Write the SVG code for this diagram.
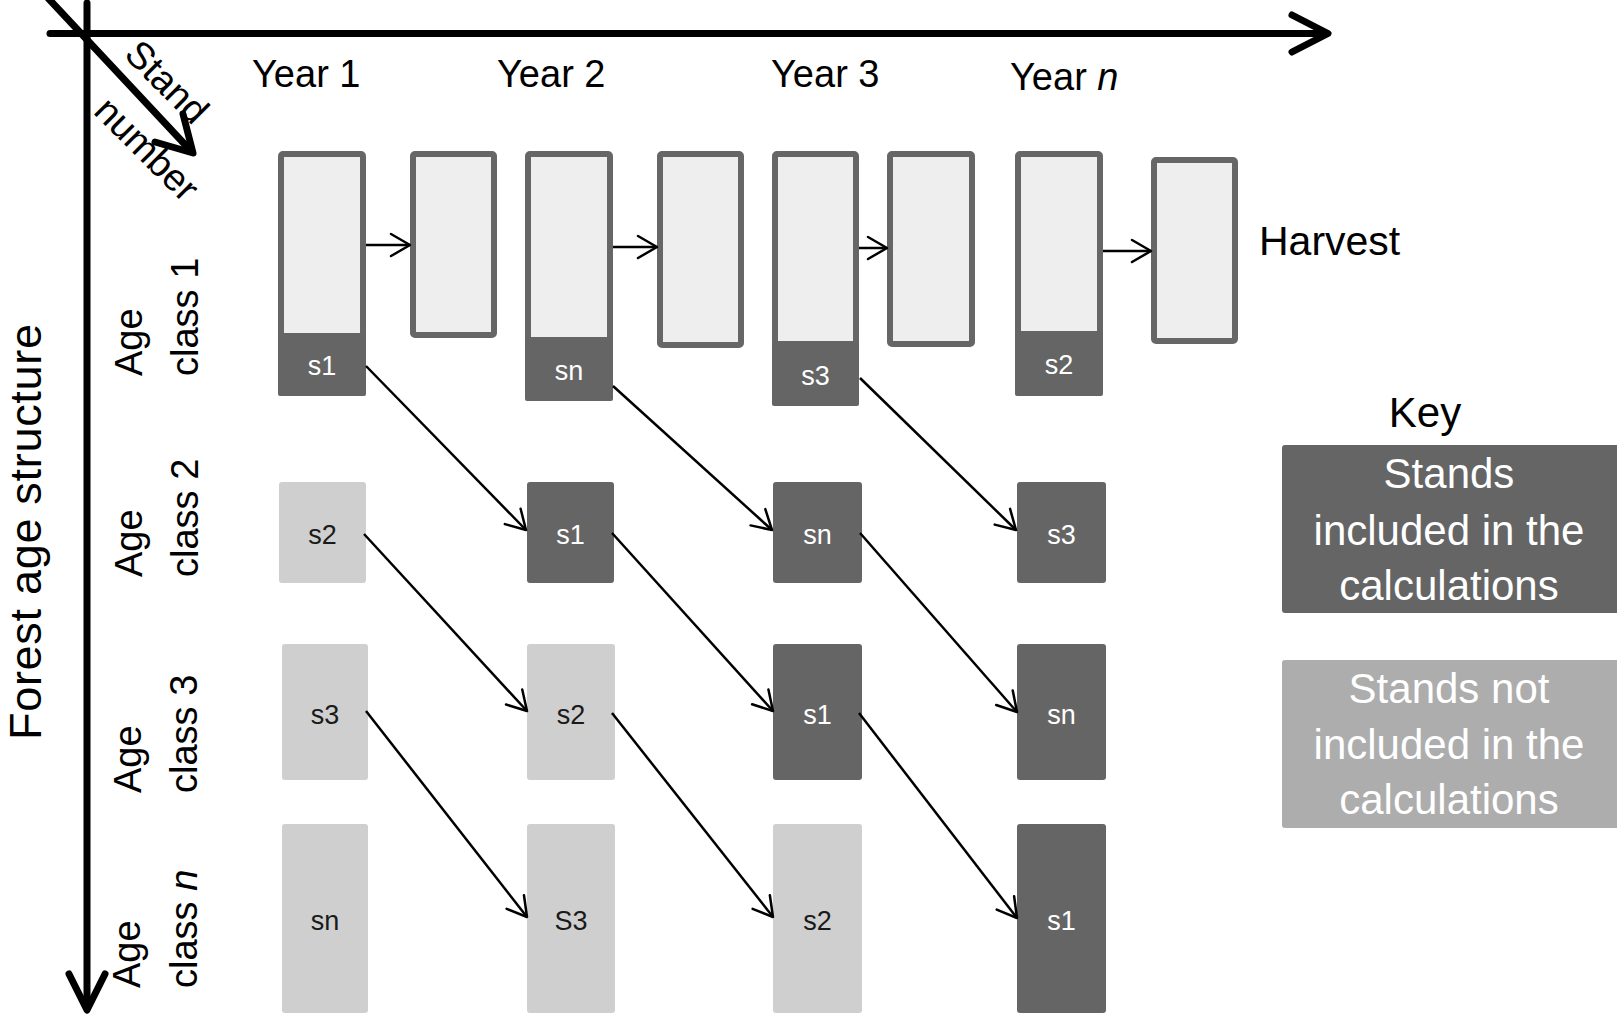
<svg xmlns="http://www.w3.org/2000/svg" width="1617" height="1015" viewBox="0 0 1617 1015">
<defs>
<style>
.t{font-family:"Liberation Sans",Arial,sans-serif;fill:#000}
.lbl{font-size:38px}
.bx{font-size:27px;text-anchor:middle}
.w{fill:#fff}
.k{fill:#1a1a1a}
.frame{fill:#eeeeee;stroke:#666666;stroke-width:6}
.dark{fill:#656565}
.light{fill:#cfcfcf}
.con{stroke:#000;stroke-width:2.5;fill:none;marker-end:url(#ah)}
.axis{stroke:#000;stroke-width:7;fill:none;stroke-linecap:round;stroke-linejoin:round}
.key{font-size:42px;text-anchor:middle;fill:#fff}
</style>
<marker id="ah" markerUnits="userSpaceOnUse" markerWidth="30" markerHeight="30" viewBox="-25 -15 30 30" refX="0" refY="0" orient="auto">
<path d="M-19,-11 L0,0 L-19,11" fill="none" stroke="#000" stroke-width="2.5" stroke-linecap="round" stroke-linejoin="round"/>
</marker>
</defs>
<rect width="1617" height="1015" fill="#fff"/>

<g id="axes">
<path class="axis" d="M50,33.5 L1326,33.5"/>
<path class="axis" d="M1292,15 L1328,33.5 L1292,52"/>
<path class="axis" d="M87,3 L87,1008"/>
<path class="axis" d="M69,974 L87,1010 L105,974"/>
<path class="axis" d="M48,-2 L191,151"/>
<path class="axis" d="M183,114 L193,153 L155,142"/>
</g>

<g id="axis-labels">
<text class="t lbl" text-anchor="middle" transform="translate(167,82) rotate(45)" y="13">Stand</text>
<text class="t lbl" text-anchor="middle" transform="translate(147,149) rotate(45)" y="13">number</text>
<text class="t" font-size="45" textLength="416" lengthAdjust="spacing" transform="translate(41,740) rotate(-90)">Forest age structure</text>
</g>

<g id="year-labels">
<text class="t lbl" x="252" y="87">Year 1</text>
<text class="t lbl" x="497" y="87">Year 2</text>
<text class="t lbl" x="771" y="87">Year 3</text>
<text class="t lbl" x="1010" y="90">Year <tspan font-style="italic">n</tspan></text>
</g>

<g id="age-labels">
<g id="age1"><text class="t lbl" transform="translate(142,376) rotate(-90)">Age</text><text class="t lbl" transform="translate(198,376) rotate(-90)">class 1</text></g>
<g id="age2"><text class="t lbl" transform="translate(142,577) rotate(-90)">Age</text><text class="t lbl" transform="translate(198,577) rotate(-90)">class 2</text></g>
<g id="age3"><text class="t lbl" transform="translate(141,793) rotate(-90)">Age</text><text class="t lbl" transform="translate(197,793) rotate(-90)">class 3</text></g>
<g id="agen"><text class="t lbl" transform="translate(140,988) rotate(-90)">Age</text><text class="t lbl" transform="translate(197,988) rotate(-90)">class <tspan font-style="italic">n</tspan></text></g>
</g>

<g id="row1">
<g id="y1c1"><rect class="frame" x="281" y="154" width="82" height="182" rx="2"/><rect class="dark" x="278" y="333" width="88" height="63" rx="2"/><text class="t bx w" x="322" y="375">s1</text></g>
<g id="y1h"><rect class="frame" x="413" y="154" width="81" height="181" rx="2"/></g>
<g id="y2c1"><rect class="frame" x="528" y="154" width="82" height="186" rx="2"/><rect class="dark" x="525" y="337" width="88" height="64" rx="2"/><text class="t bx w" x="569" y="380">sn</text></g>
<g id="y2h"><rect class="frame" x="660" y="154" width="81" height="191" rx="2"/></g>
<g id="y3c1"><rect class="frame" x="775" y="154" width="81" height="190" rx="2"/><rect class="dark" x="772" y="342" width="87" height="64" rx="2"/><text class="t bx w" x="815.5" y="385">s3</text></g>
<g id="y3h"><rect class="frame" x="890" y="154" width="82" height="190" rx="2"/></g>
<g id="ync1"><rect class="frame" x="1018" y="154" width="82" height="180" rx="2"/><rect class="dark" x="1015" y="331" width="88" height="65" rx="2"/><text class="t bx w" x="1059" y="374">s2</text></g>
<g id="ynh"><rect class="frame" x="1154" y="160" width="81" height="181" rx="2"/></g>
</g>

<g id="row2">
<g id="y1c2"><rect class="light" x="279" y="482" width="87" height="101" rx="3"/><text class="t bx k" x="322.5" y="544">s2</text></g>
<g id="y2c2"><rect class="dark" x="527" y="482" width="87" height="101" rx="3"/><text class="t bx w" x="570.5" y="544">s1</text></g>
<g id="y3c2"><rect class="dark" x="773" y="482" width="89" height="101" rx="3"/><text class="t bx w" x="817.5" y="544">sn</text></g>
<g id="ync2"><rect class="dark" x="1017" y="482" width="89" height="101" rx="3"/><text class="t bx w" x="1061.5" y="544">s3</text></g>
</g>

<g id="row3">
<g id="y1c3"><rect class="light" x="282" y="644" width="86" height="136" rx="3"/><text class="t bx k" x="325" y="724">s3</text></g>
<g id="y2c3"><rect class="light" x="527" y="644" width="88" height="136" rx="3"/><text class="t bx k" x="571" y="724">s2</text></g>
<g id="y3c3"><rect class="dark" x="773" y="644" width="89" height="136" rx="3"/><text class="t bx w" x="817.5" y="724">s1</text></g>
<g id="ync3"><rect class="dark" x="1017" y="644" width="89" height="136" rx="3"/><text class="t bx w" x="1061.5" y="724">sn</text></g>
</g>

<g id="rown">
<g id="y1cn"><rect class="light" x="282" y="824" width="86" height="189" rx="3"/><text class="t bx k" x="325" y="930">sn</text></g>
<g id="y2cn"><rect class="light" x="527" y="824" width="88" height="189" rx="3"/><text class="t bx k" x="571" y="930">S3</text></g>
<g id="y3cn"><rect class="light" x="773" y="824" width="89" height="189" rx="3"/><text class="t bx k" x="817.5" y="930">s2</text></g>
<g id="yncn"><rect class="dark" x="1017" y="824" width="89" height="189" rx="3"/><text class="t bx w" x="1061.5" y="930">s1</text></g>
</g>

<g id="connectors">
<line class="con" x1="366" y1="245" x2="410" y2="245"/>
<line class="con" x1="613" y1="247" x2="657" y2="247"/>
<line class="con" x1="859" y1="248" x2="887" y2="248"/>
<line class="con" x1="1103" y1="251" x2="1151" y2="251"/>
<line class="con" x1="366" y1="366" x2="526" y2="530"/>
<line class="con" x1="613" y1="386" x2="772" y2="530"/>
<line class="con" x1="860" y1="378" x2="1016" y2="530"/>
<line class="con" x1="364" y1="534" x2="527" y2="711"/>
<line class="con" x1="612" y1="533" x2="773" y2="711"/>
<line class="con" x1="860" y1="533" x2="1017" y2="712"/>
<line class="con" x1="366" y1="711" x2="527" y2="917"/>
<line class="con" x1="612" y1="713" x2="773" y2="917"/>
<line class="con" x1="859" y1="713" x2="1017" y2="918"/>
</g>

<g id="harvest"><text class="t" font-size="41" x="1259" y="255">Harvest</text></g>

<g id="key">
<text class="t" font-size="42" text-anchor="middle" x="1425" y="427">Key</text>
<g id="key-included"><rect class="dark" x="1282" y="445" width="340" height="168" rx="3"/>
<text class="t key" x="1449" y="488">Stands</text>
<text class="t key" x="1449" y="545">included in the</text>
<text class="t key" x="1449" y="600">calculations</text></g>
<g id="key-excluded"><rect fill="#adadad" x="1282" y="660" width="340" height="168" rx="3"/>
<text class="t key" x="1449" y="703">Stands not</text>
<text class="t key" x="1449" y="759">included in the</text>
<text class="t key" x="1449" y="814">calculations</text></g>
</g>
</svg>
